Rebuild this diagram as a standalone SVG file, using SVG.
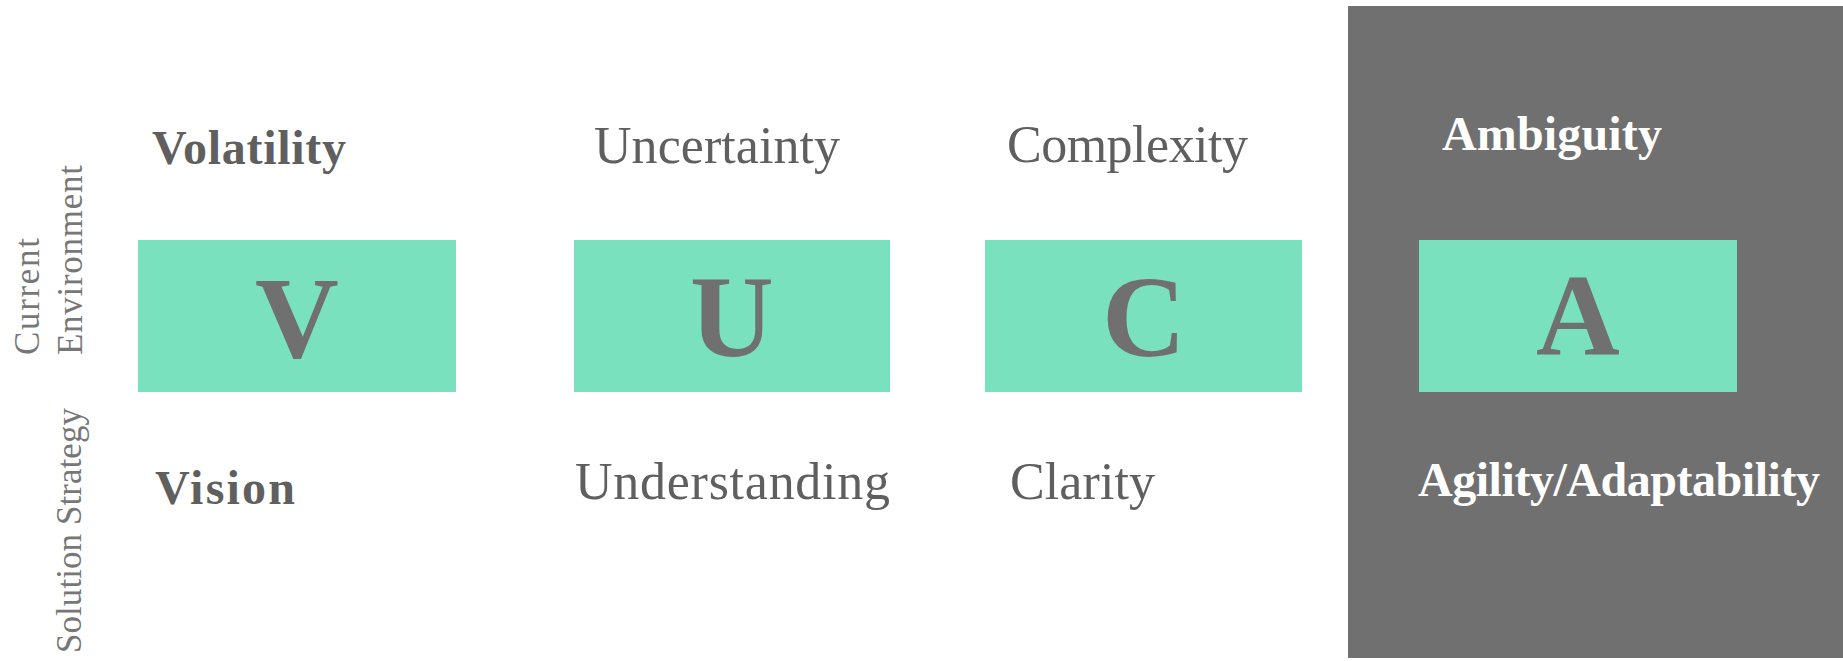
<svg xmlns="http://www.w3.org/2000/svg" width="1843" height="661" viewBox="0 0 1843 661">
<style>
.box{fill:#79e1be}
.big{font-family:"Liberation Serif",serif;font-weight:bold;font-size:116px;fill:#707070;text-anchor:middle}
.lb{font-family:"Liberation Serif",serif;font-weight:bold;font-size:48px;fill:#5f5f5f}
.lr{font-family:"Liberation Serif",serif;font-size:52px;fill:#5f5f5f}
.wb{fill:#ffffff}
.side{font-family:"Liberation Serif",serif;font-size:35px;fill:#777777}
</style>
<rect x="1348" y="6" width="495" height="652" fill="#707070"/>
<g id="side-labels">
<text class="side" transform="translate(39,355) rotate(-90)" textLength="117">Current</text>
<text class="side" transform="translate(82,355) rotate(-90)" textLength="190">Environment</text>
<text class="side" transform="translate(81,653) rotate(-90)" textLength="245">Solution Strategy</text>
</g>
<g id="node-v">
<text class="lb" x="152" y="164" textLength="194">Volatility</text>
<rect class="box" x="138" y="240" width="318" height="152"/>
<text class="big" x="297" y="357">V</text>
<text class="lb" x="155" y="504" textLength="140">Vision</text>
</g>
<g id="node-u">
<text class="lr" x="594" y="163" textLength="246">Uncertainty</text>
<rect class="box" x="574" y="240" width="316" height="152"/>
<text class="big" x="732" y="356">U</text>
<text class="lr" x="575" y="499" textLength="315">Understanding</text>
</g>
<g id="node-c">
<text class="lr" x="1007" y="162" textLength="241">Complexity</text>
<rect class="box" x="985" y="240" width="317" height="152"/>
<text class="big" x="1144" y="356">C</text>
<text class="lr" x="1010" y="499" textLength="145">Clarity</text>
</g>
<g id="node-a">
<text class="lb wb" x="1442" y="150" textLength="220">Ambiguity</text>
<rect class="box" x="1419" y="240" width="318" height="152"/>
<text class="big" x="1578" y="354">A</text>
<text class="lb wb" x="1418" y="496" textLength="402">Agility/Adaptability</text>
</g>
<g id="connectors"/>
</svg>
